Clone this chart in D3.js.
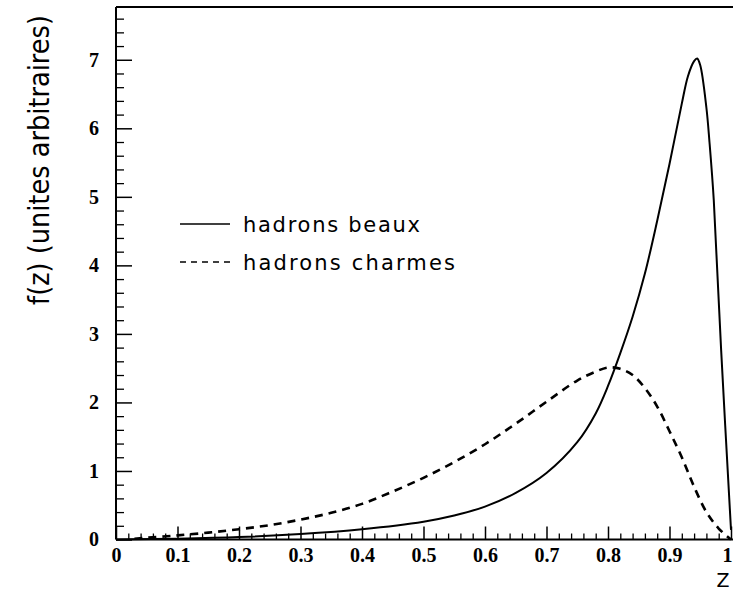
<!DOCTYPE html>
<html><head><meta charset="utf-8">
<script src="https://cdn.jsdelivr.net/npm/d3@7"></script>
<style>body{margin:0;background:#fff}svg{display:block}</style>
</head><body>
<svg id="c" width="733" height="592"></svg>
<script>
// ---- data ----
const zBeaux = [0.0,0.1,0.2,0.3,0.4,0.5,0.55,0.6,0.65,0.7,0.75,0.78,0.8,0.82,0.84,0.86,0.88,0.9,0.92,0.93,0.94,0.945,0.95,0.96,0.965,0.972,0.984,1.0];
const fBeaux = [0.0,0.012,0.035,0.08,0.15,0.26,0.35,0.48,0.68,0.97,1.42,1.84,2.24,2.72,3.25,3.88,4.65,5.48,6.36,6.76,6.98,7.02,6.92,6.3,5.8,4.95,2.76,0.14];
const zCharm = [0.03,0.05,0.1,0.15,0.2,0.25,0.3,0.35,0.4,0.45,0.5,0.55,0.6,0.65,0.7,0.75,0.78,0.8,0.82,0.84,0.86,0.88,0.9,0.92,0.94,0.96,0.98,1.0];
const fCharm = [0.01,0.025,0.06,0.1,0.15,0.21,0.29,0.39,0.52,0.7,0.9,1.13,1.39,1.69,2.01,2.32,2.45,2.51,2.49,2.4,2.21,1.94,1.58,1.2,0.77,0.4,0.16,0.0];
const xMajor = [0,0.1,0.2,0.3,0.4,0.5,0.6,0.7,0.8,0.9,1];
const xLabels = ["0","0.1","0.2","0.3","0.4","0.5","0.6","0.7","0.8","0.9","1"];
const yMajor = [0,1,2,3,4,5,6,7];
const legendLabels = ["hadrons beaux","hadrons charmes"];
const yTitle = "f(z) (unites arbitraires)";
const xTitle = "Z";

// ---- chart ----
const svg = d3.select("#c");
const x = d3.scaleLinear().domain([0,1]).range([116,731]);
const y = d3.scaleLinear().domain([0,7.77]).range([539.5,7]);
const tickFont = "'Liberation Serif','Times New Roman',serif";
const sansFont = "'DejaVu Sans',sans-serif";

const xMinor = d3.range(0,101,2).map(d=>d/100).filter(v=>Math.round(v*100)%10!==0);
const yMinor = d3.range(0,39).map(d=>d*0.2).filter(v=>Math.abs(v-Math.round(v))>1e-6);

// minor x ticks
svg.append("g").attr("transform",`translate(0,${y(0)})`)
  .call(d3.axisBottom(x).tickValues(xMinor).tickSize(-6).tickFormat(""))
  .call(g=>g.select(".domain").remove())
  .selectAll("line").attr("stroke","#000").attr("stroke-width",1.3);
// major x ticks
const gx = svg.append("g").attr("transform",`translate(0,${y(0)})`)
  .call(d3.axisBottom(x).tickValues(xMajor).tickSize(-13).tickPadding(8)
    .tickFormat((d,i)=>xLabels[i]));
gx.select(".domain").remove();
gx.selectAll("line").attr("stroke","#000").attr("stroke-width",1.5);
gx.selectAll("text").attr("font-family",tickFont).attr("font-weight","bold")
  .attr("font-size",20).attr("fill","#000")
  .filter(d=>d===1).attr("text-anchor","end").attr("dx",1);

// minor y ticks
svg.append("g").attr("transform",`translate(${x(0)},0)`)
  .call(d3.axisLeft(y).tickValues(yMinor).tickSize(-8).tickFormat(""))
  .call(g=>g.select(".domain").remove())
  .selectAll("line").attr("stroke","#000").attr("stroke-width",1.3);
const gy = svg.append("g").attr("transform",`translate(${x(0)},0)`)
  .call(d3.axisLeft(y).tickValues(yMajor).tickSize(-16).tickPadding(17).tickFormat(d3.format("d")));
gy.select(".domain").remove();
gy.selectAll("line").attr("stroke","#000").attr("stroke-width",1.5);
gy.selectAll("text").attr("font-family",tickFont).attr("font-weight","bold")
  .attr("font-size",20).attr("fill","#000");

// frame lines
svg.append("line").attr("x1",x(0)).attr("x2",733).attr("y1",y(0)).attr("y2",y(0))
  .attr("stroke","#000").attr("stroke-width",2);
svg.append("line").attr("x1",x(0)).attr("x2",x(0)).attr("y1",y(7.77)).attr("y2",y(0))
  .attr("stroke","#000").attr("stroke-width",2);
svg.append("line").attr("x1",x(0)).attr("x2",733).attr("y1",y(7.77)).attr("y2",y(7.77))
  .attr("stroke","#000").attr("stroke-width",2);

// curves
const line = d3.line().x(d=>x(d[0])).y(d=>y(d[1])).curve(d3.curveCatmullRom.alpha(0.5));
svg.append("path").datum(zBeaux.map((z,i)=>[z,fBeaux[i]]))
  .attr("d",line).attr("fill","none").attr("stroke","#000").attr("stroke-width",2);
svg.append("path").datum(zCharm.map((z,i)=>[z,fCharm[i]]))
  .attr("d",line).attr("fill","none").attr("stroke","#000").attr("stroke-width",2.6)
  .attr("stroke-dasharray","8,6");

// legend
const lg = svg.append("g");
lg.append("line").attr("x1",180).attr("x2",230).attr("y1",224).attr("y2",224)
  .attr("stroke","#000").attr("stroke-width",1.5);
lg.append("line").attr("x1",180).attr("x2",231).attr("y1",262).attr("y2",262)
  .attr("stroke","#000").attr("stroke-width",1.5).attr("stroke-dasharray","6,5");
lg.append("text").attr("x",243).attr("y",231.5).text(legendLabels[0])
  .attr("font-family",sansFont).attr("font-size",21).attr("textLength",177)
  .attr("lengthAdjust","spacing");
lg.append("text").attr("x",243).attr("y",269.5).text(legendLabels[1])
  .attr("font-family",sansFont).attr("font-size",21).attr("textLength",212)
  .attr("lengthAdjust","spacing");

// titles
const yt = svg.append("text").attr("text-anchor","middle").text(yTitle)
  .attr("font-family",sansFont).attr("font-size",29);
const w = yt.node().getComputedTextLength();
yt.attr("transform",`translate(49,160) rotate(-90) scale(${290/w},1)`);
svg.append("text").attr("x",723).attr("y",587).attr("text-anchor","middle").text(xTitle)
  .attr("font-family",sansFont).attr("font-size",19);
</script>
</body></html>
